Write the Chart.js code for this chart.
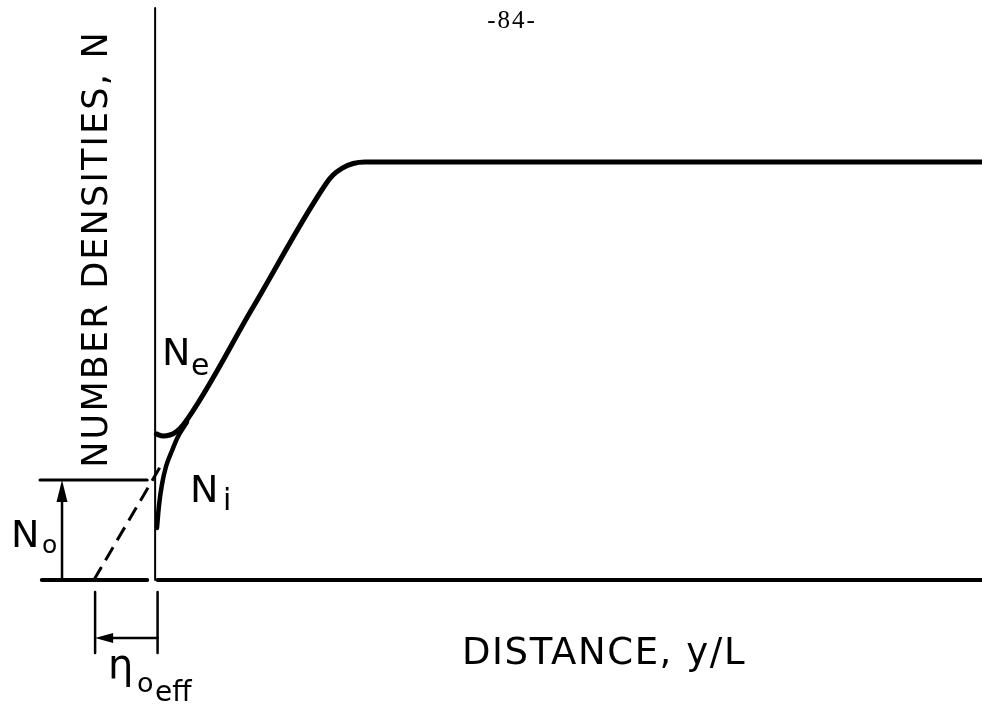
<!DOCTYPE html>
<html>
<head>
<meta charset="utf-8">
<script src="https://cdn.jsdelivr.net/npm/chart.js@4.4.0/dist/chart.umd.min.js"></script>
<style>
  html, body { margin: 0; padding: 0; background: #fff; }
  #wrap { width: 982px; height: 711px; }
</style>
</head>
<body>
<div id="wrap"><canvas id="fig" width="982" height="711"></canvas></div>
<script>
// distance in units of eta_o,eff, densities in units of N_o
const neX = [0.02, 0.13, 0.24, 0.34, 0.47, 1.6, 2.787, 2.901, 3.056, 3.234, 3.427, 3.7, 13.5];
const neY = [1.46, 1.44, 1.45, 1.48, 1.56, 2.73, 3.96, 4.047, 4.119, 4.165, 4.18, 4.18, 4.18];
const niX = [0.03, 0.064, 0.11, 0.18, 0.28, 0.37, 0.52];
const niY = [0.52, 0.75, 0.95, 1.14, 1.30, 1.43, 1.58];
// linear extrapolation back to the wall
const extrapX = [-1.0, 0.12];
const extrapY = [0, 1.17];
const nO = 1;
const etaEff = -0.98;
const wallX = 0.04;
const yTop = 5.72;
const xEnd = 13.5;

const pts = (xs, ys) => xs.map((x, i) => ({ x, y: ys[i] }));

const line = (data, width, extra = {}) => ({
  data,
  borderColor: '#000',
  borderWidth: width,
  pointRadius: 0,
  showLine: true,
  fill: false,
  clip: false,
  tension: 0,
  borderCapStyle: 'round',
  ...extra,
});

function arrowHead(ctx, tx, ty, dx, dy, len, half) {
  const px = -dy, py = dx;
  ctx.beginPath();
  ctx.moveTo(tx, ty);
  ctx.lineTo(tx - dx * len + px * half, ty - dy * len + py * half);
  ctx.lineTo(tx - dx * len - px * half, ty - dy * len - py * half);
  ctx.closePath();
  ctx.fill();
}

function text(ctx, str, x, y, size, spacing = 0, family = '"DejaVu Sans", sans-serif') {
  ctx.font = `${size}px ${family}`;
  ctx.letterSpacing = spacing + 'px';
  ctx.fillText(str, x, y);
  ctx.letterSpacing = '0px';
}

const decorations = {
  id: 'decorations',
  afterDatasetsDraw(chart) {
    const { ctx, scales: { x, y } } = chart;
    ctx.save();
    ctx.fillStyle = '#000';

    // arrow heads
    arrowHead(ctx, x.getPixelForValue(-1.52), y.getPixelForValue(nO), 0, -1, 22, 5.5);
    arrowHead(ctx, x.getPixelForValue(etaEff), y.getPixelForValue(-0.58), -1, 0, 18, 5);

    // page number
    ctx.textAlign = 'center';
    ctx.textBaseline = 'alphabetic';
    text(ctx, '-84-', 512, 28, 25, 2, '"Liberation Serif", serif');

    // axis titles
    ctx.save();
    ctx.translate(107, 249);
    ctx.rotate(-Math.PI / 2);
    text(ctx, 'NUMBER DENSITIES, N', 0, 0, 35, 2.2);
    ctx.restore();

    ctx.textAlign = 'left';
    text(ctx, 'DISTANCE, y/L', 462, 664, 37, 1.6);

    // curve labels
    text(ctx, 'N', 162, 365, 38);
    text(ctx, 'e', 191, 375, 30);
    text(ctx, 'N', 190, 502, 38);
    text(ctx, 'i', 223, 510, 30);
    text(ctx, 'N', 11, 547, 38);
    text(ctx, 'o', 42, 553, 25);
    text(ctx, 'η', 108, 678, 40);
    text(ctx, 'o', 137, 692, 27);
    text(ctx, 'eff', 155, 701, 28);
    ctx.restore();
  },
};

new Chart(document.getElementById('fig'), {
  type: 'scatter',
  data: {
    datasets: [
      line([{ x: 0, y: 0 }, { x: 0, y: yTop }], 2),
      line([{ x: wallX, y: 0 }, { x: xEnd, y: 0 }], 4),
      line([{ x: -1.85, y: 0 }, { x: -0.13, y: 0 }], 4),
      line([{ x: -1.88, y: nO }, { x: -0.13, y: nO }], 3),
      line([{ x: -1.52, y: 0 }, { x: -1.52, y: nO - 0.15 }], 2.5),
      line(pts(extrapX, extrapY), 3, { borderDash: [15, 8], borderCapStyle: 'butt' }),
      line(pts(neX, neY), 5, { cubicInterpolationMode: 'monotone' }),
      line(pts(niX, niY), 4.5, { cubicInterpolationMode: 'monotone' }),
      line([{ x: etaEff, y: -0.12 }, { x: etaEff, y: -0.73 }], 2.5),
      line([{ x: wallX, y: -0.12 }, { x: wallX, y: -0.73 }], 2.5),
      line([{ x: wallX, y: -0.58 }, { x: etaEff + 0.2, y: -0.58 }], 2.5),
    ],
  },
  options: {
    responsive: false,
    animation: false,
    layout: { padding: { left: 2, right: 0, top: 5, bottom: 131 } },
    plugins: { legend: { display: false }, tooltip: { enabled: false } },
    scales: {
      x: { type: 'linear', min: -2.5, max: 13.5, display: false },
      y: { type: 'linear', min: 0, max: 5.75, display: false },
    },
  },
  plugins: [decorations],
});
</script>
</body>
</html>
